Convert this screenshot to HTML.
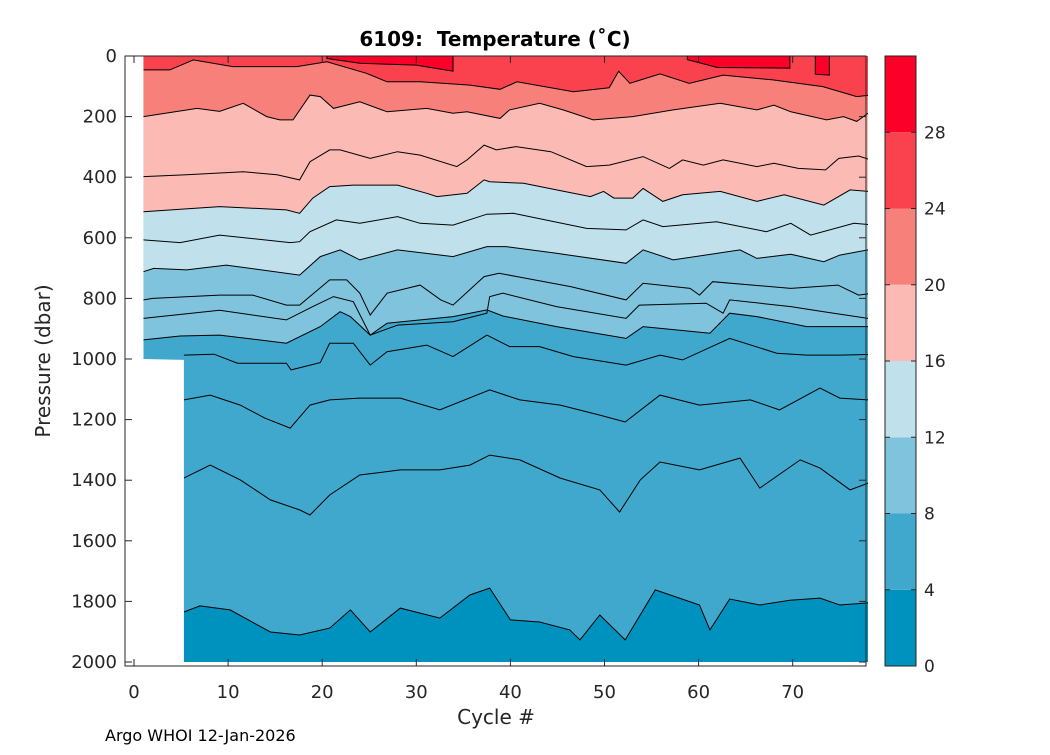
<!DOCTYPE html>
<html><head><meta charset="utf-8"><style>
body{margin:0;background:#fff}
svg text{font-family:"DejaVu Sans","Liberation Sans",sans-serif;fill:#262626}
</style></head><body>
<svg id="chart" width="1050" height="750" viewBox="0 0 1050 750" xmlns="http://www.w3.org/2000/svg">
<defs><clipPath id="dataClip"><polygon id="clipPoly" points=""/></clipPath></defs>
<g id="fills" clip-path="url(#dataClip)"></g>
<g id="lines" clip-path="url(#dataClip)"></g>
<g id="axes"></g>
</svg>
<script>
// ---- data ----
const xTicks=[0,10,20,30,40,50,60,70];
const yTicks=[0,200,400,600,800,1000,1200,1400,1600,1800,2000];
const cbTicks=[0,4,8,12,16,20,24,28];
const bandColors=['#0092be','#40a8cc','#7fc3dc','#c0e0ec','#fbbab3','#f8807a','#f9424e','#fb0028'];
const iso28a=[[20.5,0],[20.5,8],[24,24],[30,30],[33.9,50],[33.9,0]];
const iso28b=[[58.8,0],[58.8,12],[62,38],[69.7,40],[69.7,0]];
const iso28c=[[72.4,0],[72.4,60],[73.9,63],[73.9,0]];
const iso24=[[1,46],[3.8,46],[6.3,13],[10.5,35],[14.5,35],[17.3,35],[20.5,19],[24.7,57],[26.9,85],[30.4,85],[35.7,96],[38.9,110],[40.7,85],[46.7,118],[50.5,105],[51.5,50],[52.7,90],[55.9,59],[59,90],[62.6,63],[67.9,79],[73.2,101],[76.8,134],[78,130]];
const iso20=[[1,200],[6.7,173],[9.1,183],[11.6,156],[14.1,200],[15.5,211],[16.9,211],[18.7,129],[19.8,134],[21.2,173],[24,151],[26.9,184],[31.1,173],[33.9,189],[35.4,184],[38.9,206],[39.9,178],[43.1,156],[45.6,178],[48.8,211],[53,200],[57.3,178],[62.3,156],[66.2,178],[68,162],[69.8,184],[73.6,211],[75.4,200],[76.8,216],[78,189]];
const iso18=[[1,398],[5.6,392],[11.6,382],[15.2,392],[17.6,409],[18.7,349],[20.8,310],[21.9,310],[25.1,338],[28,316],[30.4,327],[34.3,365],[35.4,343],[37.2,294],[38.5,310],[40.6,299],[44.3,316],[48.1,365],[50.5,360],[54.1,332],[56.9,371],[58.3,343],[60.5,360],[62.6,343],[66.2,365],[68,354],[70.6,371],[73.5,376],[74.9,338],[77,330],[78,340]];
const iso16=[[1,514],[9.1,497],[16.2,508],[17.6,519],[19,469],[20.8,431],[23.3,426],[28,426],[31.1,453],[32.2,464],[35.4,453],[37.2,409],[37.8,415],[41.4,420],[44.9,442],[48.5,464],[49.9,447],[51,469],[53,469],[54.1,437],[56.2,480],[58.3,458],[62.3,447],[66.2,480],[69.1,458],[73.3,492],[76.1,442],[78,447]];
const iso14=[[1,607],[4.9,616],[9.1,591],[16.6,616],[17.6,613],[18.7,580],[21.5,541],[24,552],[28,530],[30.4,552],[33.9,558],[37.5,522],[40.3,519],[48.1,569],[52.3,574],[54.1,541],[56.2,563],[61.9,547],[67.2,580],[69.8,552],[71.9,591],[76.5,552],[78,556]];
const iso12=[[1,712],[2.1,701],[5.6,706],[9.8,690],[17.6,723],[19.8,662],[21.9,640],[24,673],[28,640],[33.9,662],[37.5,629],[39.5,629],[44.9,651],[52.3,684],[54.1,640],[57.3,673],[64.4,640],[66.2,668],[69.8,654],[73.3,679],[75,657],[78,640]];
const iso11=[[1,805],[2,800],[9.1,789],[12.6,789],[16.2,822],[17.6,822],[20.8,739],[22.6,739],[24,783],[25.1,855],[26.9,783],[30.4,756],[32.6,805],[33.9,822],[37.2,728],[38.8,717],[40.7,728],[46.4,761],[52.3,805],[54.1,750],[59.1,767],[60.1,789],[61.5,745],[69.8,767],[74.8,756],[77,789],[78,785]];
const iso10=[[1,866],[9.1,839],[16.2,871],[19,827],[21.2,794],[23.3,811],[25.1,921],[28,888],[33.9,877],[37.5,849],[37.8,794],[39.2,783],[44.9,827],[52.3,866],[53.7,822],[60.8,816],[62.6,849],[63.3,805],[69.8,827],[73.3,844],[78,866]];
const iso8=[[1,937],[4.9,924],[9.1,921],[16.2,948],[19.8,893],[21.9,844],[23,860],[25.1,921],[26.9,882],[33.9,860],[37.5,838],[39.2,858],[44.9,893],[52.3,932],[54.1,893],[57.6,904],[61.2,915],[63.3,849],[66.2,860],[71.5,893],[78,893]];
const iso7=[[5.3,987],[8.5,984],[11,1014],[16.2,1014],[16.7,1036],[19.8,1012],[20.8,948],[23.3,948],[25.1,1020],[26.9,976],[31.1,954],[33.9,992],[37.5,921],[39.9,959],[43.1,959],[46.7,992],[52.3,1020],[55.9,987],[58.3,1003],[63.3,932],[68.3,981],[71.5,987],[75,987],[78,985]];
const iso6=[[5.3,1135],[8.1,1119],[11.3,1152],[13.9,1195],[16.6,1228],[18.7,1152],[20.8,1135],[24,1129],[28.3,1129],[32.5,1168],[37.8,1102],[41,1135],[45.3,1152],[49.5,1185],[52.2,1208],[55.9,1119],[60.1,1152],[65.5,1135],[68.6,1168],[72.9,1096],[75,1129],[78,1135]];
const iso5=[[5.3,1393],[8.1,1350],[11.3,1399],[14.5,1465],[17.6,1498],[18.7,1515],[20.8,1449],[24,1383],[28.3,1366],[32.5,1366],[35.7,1350],[37.8,1317],[41,1333],[45.3,1393],[49.5,1432],[51.6,1505],[53.8,1399],[55.9,1340],[60.1,1366],[64.4,1327],[66.5,1426],[70.8,1333],[72.9,1360],[76.1,1432],[78,1410]];
const iso4=[[5.3,1835],[7,1815],[10.2,1828],[14.5,1901],[17.6,1911],[20.8,1888],[23,1828],[25.1,1901],[28.3,1822],[32.5,1855],[35.7,1779],[37.8,1756],[40,1861],[43.1,1868],[46.3,1894],[47.4,1927],[49.5,1845],[52.2,1927],[55.4,1762],[60.1,1812],[61.2,1894],[63.3,1792],[66.5,1812],[69.7,1796],[72.9,1789],[75,1812],[78,1805]];
// ---- scales ----
const X0=125,X1=866,Y0=56,Y1=666;
function sx(c){return 134+9.41*c;}
function sy(p){return 56+0.303*p;}
const NS='http://www.w3.org/2000/svg';
function mk(tag,attrs,parent){const e=document.createElementNS(NS,tag);for(const k in attrs)e.setAttribute(k,attrs[k]);parent.appendChild(e);return e;}
function pts(arr){return arr.map(d=>sx(d[0]).toFixed(1)+','+sy(d[1]).toFixed(1)).join(' ');}
const fills=document.getElementById('fills'),lines=document.getElementById('lines'),axes=document.getElementById('axes');
document.getElementById('clipPoly').setAttribute('points',pts([[1,0],[1,1000],[5.3,1003],[5.3,2000],[78,2000],[78,0]]));
let r=mk('rect',{x:sx(1),y:sy(0),width:sx(78)-sx(1),height:sy(2000)-sy(0),fill:bandColors[1]},fills);


let pl=mk('polygon',{points:pts(iso4.concat([[78,2000],[5.3,2000]])),fill:bandColors[0]},fills);


const bounds=[[iso8,2,'band-8-12'],[iso12,3,'band-12-16'],[iso16,4,'band-16-20'],[iso20,5,'band-20-24'],[iso24,6,'band-24-28']];
bounds.forEach(b=>{const line=b[0];const first=line[0][0],last=line[line.length-1][0];
 const p=mk('polygon',{points:pts([[first,0]].concat(line).concat([[last,0]])),fill:bandColors[b[1]]},fills);
 
 });
[iso28a,iso28b,iso28c].forEach(l=>{const p=mk('polygon',{points:pts(l),fill:bandColors[7]},fills);
 
 });
[iso28a,iso28b,iso28c,iso24,iso20,iso18,iso16,iso14,iso12,iso11,iso10,iso8,iso7,iso6,iso5,iso4].forEach(l=>{
 const p=mk('polyline',{points:pts(l),fill:'none',stroke:'#000','stroke-width':1},lines);
 
 });
let bx=mk('rect',{x:X0,y:Y0,width:X1-X0,height:Y1-Y0,fill:'none',stroke:'#262626','stroke-width':1},axes);


xTicks.forEach(t=>{const x=sx(t);
 mk('line',{x1:x,x2:x,y1:Y1,y2:Y1-7,stroke:'#262626'},axes);
 mk('line',{x1:x,x2:x,y1:Y0,y2:Y0+7,stroke:'#262626'},axes);
 const tx=mk('text',{x:x,y:698,'text-anchor':'middle','font-size':18},axes);tx.textContent=t;
 
 });
yTicks.forEach(t=>{const y=sy(t);
 mk('line',{x1:X0,x2:X0+7,y1:y,y2:y,stroke:'#262626'},axes);
 mk('line',{x1:X1,x2:X1-7,y1:y,y2:y,stroke:'#262626'},axes);
 const tx=mk('text',{x:117,y:y+6,'text-anchor':'end','font-size':18},axes);tx.textContent=t;
 
 });
const CB0=885,CB1=916;function cy(v){return 666-(v/32)*610;}
bandColors.forEach((c,i)=>{const rr=mk('rect',{x:CB0,y:cy(i*4+4),width:CB1-CB0,height:cy(i*4)-cy(i*4+4),fill:c},axes);
 
 });
let cbf=mk('rect',{x:CB0,y:56,width:CB1-CB0,height:610,fill:'none',stroke:'#262626'},axes);


cbTicks.forEach(t=>{const y=cy(t);
 mk('line',{x1:CB0,x2:CB0+5,y1:y,y2:y,stroke:'#262626'},axes);
 mk('line',{x1:CB1,x2:CB1-5,y1:y,y2:y,stroke:'#262626'},axes);
 const tx=mk('text',{x:924,y:y+6,'font-size':17},axes);tx.textContent=t;
 
 });
</script>
<svg style="position:absolute;left:0;top:0" width="1050" height="750">
<text x="495" y="46" text-anchor="middle" font-size="20" font-weight="bold" style="fill:#000">6109:&#160; Temperature (˚C)</text>
<text x="496" y="724" text-anchor="middle" font-size="20">Cycle #</text>
<text transform="translate(50,361) rotate(-90)" text-anchor="middle" font-size="20">Pressure (dbar)</text>
<text x="105" y="741" font-size="16" style="fill:#000">Argo WHOI 12-Jan-2026</text>
</svg>
</body></html>
